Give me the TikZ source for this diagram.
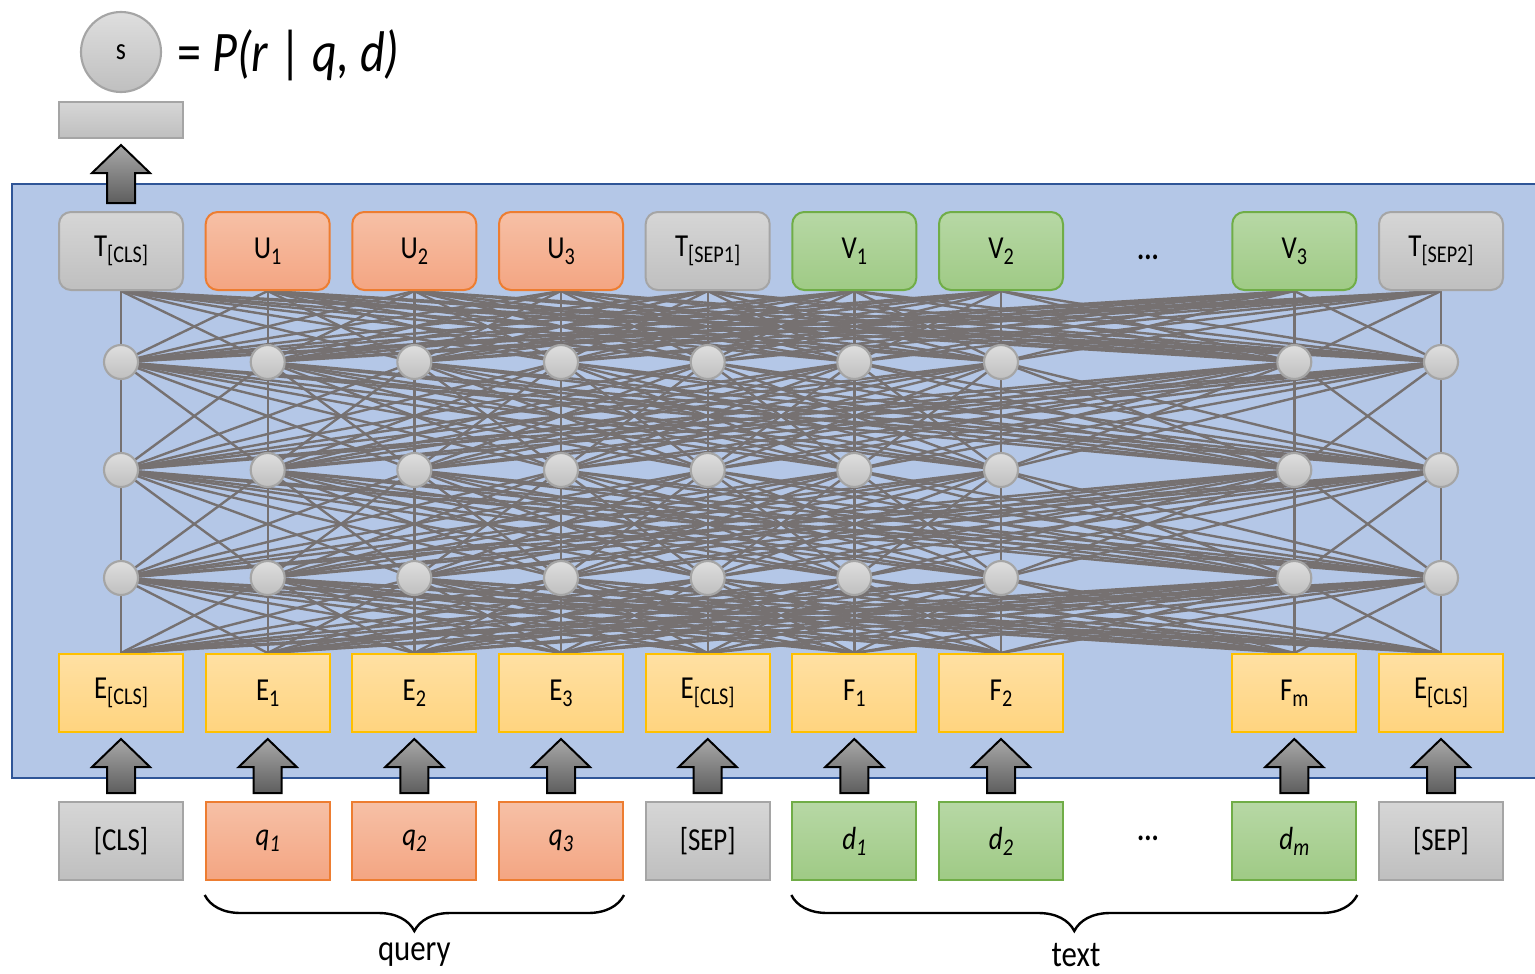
\documentclass[tikz,border=0pt]{standalone}
\usepackage{fontspec}
\setmainfont{Carlito}[FakeStretch=0.84]
\usetikzlibrary{calc,decorations.pathreplacing}
\pgfdeclarelayer{bg}
\pgfdeclarelayer{mesh}
\pgfsetlayers{bg,mesh,main}

\definecolor{panel}{HTML}{B4C7E7}
\definecolor{panelline}{HTML}{2F5597}
\definecolor{meshline}{HTML}{767171}
\definecolor{grayline}{HTML}{A5A5A5}
\definecolor{graytop}{HTML}{D6D6D6}
\definecolor{graybot}{HTML}{BFBFBF}
\definecolor{orline}{HTML}{ED7D31}
\definecolor{ortop}{HTML}{F6C0A6}
\definecolor{orbot}{HTML}{F4A582}
\definecolor{grline}{HTML}{70AD47}
\definecolor{grtop}{HTML}{B7D8A5}
\definecolor{grbot}{HTML}{9FCA85}
\definecolor{ylline}{HTML}{FFC000}
\definecolor{yltop}{HTML}{FFE0A3}
\definecolor{ylbot}{HTML}{FFD47F}
\definecolor{arrtop}{HTML}{A8A8A8}
\definecolor{arrbot}{HTML}{5E5E5E}

% lowered, smaller index text
\newcommand{\lsub}[1]{\raisebox{-0.38ex}{\fontsize{18}{18}\selectfont #1}}
% box text, set slightly below the centre
\newcommand{\boxtext}[1]{\raisebox{-2.5pt}{#1}}

\tikzset{
  box/.style={draw, line width=1.5pt, minimum width=93pt, minimum height=58.5pt,
    inner sep=0pt, font=\fontsize{24}{24}\selectfont},
  tokgray/.style={box, draw=grayline, top color=graytop, bottom color=graybot},
  tokor/.style={box, draw=orline, top color=ortop, bottom color=orbot},
  tokgr/.style={box, draw=grline, top color=grtop, bottom color=grbot},
  tokyl/.style={box, draw=ylline, top color=yltop, bottom color=ylbot},
  rbox/.style={rounded corners=9pt},
  unit/.style={circle, draw=grayline, line width=1.6pt, minimum size=25.5pt,
    inner sep=0pt, top color=graytop!80!white, bottom color=graybot},
  meshedge/.style={draw=meshline, line width=1.8pt},
  blockarrow/.style={draw=black, line width=1.5pt, line join=miter,
    top color=arrtop, bottom color=arrbot},
  brace/.style={draw, decorate, decoration={brace, mirror, amplitude=27pt},
    line width=1.8pt},
  dots/.style={font=\fontsize{24}{24}\selectfont\bfseries},
  label/.style={font=\fontsize{27.5}{27.5}\selectfont}
}

% block arrow pointing from node #1 up to node #2
\newcommand{\uparr}[2]{%
  \path[blockarrow]
    ($(#1.north)+(-14,-8)$) -- ($(#2.south)+(-14,34)$) --
    ($(#2.south)+(-29,34)$) -- ($(#2.south)+(0,6)$) --
    ($(#2.south)+(29,34)$) -- ($(#2.south)+(14,34)$) --
    ($(#1.north)+(14,-8)$) -- cycle;}

\begin{document}
\begin{tikzpicture}[x=0.75pt,y=-0.75pt]
\useasboundingbox (0,0) rectangle (1535,974);

% encoder panel
\begin{pgfonlayer}{bg}
  \path[fill=panel, draw=panelline, line width=1.5pt] (12,184) rectangle (1560,778);
\end{pgfonlayer}

% output rows
\node[tokgray,rbox] (t0) at (121,251)   {\boxtext{T\lsub{[CLS]}}};
\node[tokor,rbox]   (t1) at (267.7,251) {\boxtext{U\lsub{1}}};
\node[tokor,rbox]   (t2) at (414.3,251) {\boxtext{U\lsub{2}}};
\node[tokor,rbox]   (t3) at (561,251)   {\boxtext{U\lsub{3}}};
\node[tokgray,rbox] (t4) at (707.7,251) {\boxtext{T\lsub{[SEP1]}}};
\node[tokgr,rbox]   (t5) at (854.3,251) {\boxtext{V\lsub{1}}};
\node[tokgr,rbox]   (t6) at (1001,251)  {\boxtext{V\lsub{2}}};
\node[dots]         (dotsT) at (1148,257) {...};
\node[tokgr,rbox]   (t7) at (1294.3,251) {\boxtext{V\lsub{3}}};
\node[tokgray,rbox] (t8) at (1441,251)  {\boxtext{T\lsub{[SEP2]}}};

% embedding row
\node[tokyl] (e0) at (121,693)   {\boxtext{E\lsub{[CLS]}}};
\node[tokyl] (e1) at (267.7,693) {\boxtext{E\lsub{1}}};
\node[tokyl] (e2) at (414.3,693) {\boxtext{E\lsub{2}}};
\node[tokyl] (e3) at (561,693)   {\boxtext{E\lsub{3}}};
\node[tokyl] (e4) at (707.7,693) {\boxtext{E\lsub{[CLS]}}};
\node[tokyl] (e5) at (854.3,693) {\boxtext{F\lsub{1}}};
\node[tokyl] (e6) at (1001,693)  {\boxtext{F\lsub{2}}};
\node[tokyl] (e7) at (1294.3,693) {\boxtext{F\lsub{m}}};
\node[tokyl] (e8) at (1441,693)  {\boxtext{E\lsub{[CLS]}}};

% input tokens
\node[tokgray] (i0) at (121,841)   {[CLS]};
\node[tokor]   (i1) at (267.7,841) {\textit{q\lsub{1}}};
\node[tokor]   (i2) at (414.3,841) {\textit{q\lsub{2}}};
\node[tokor]   (i3) at (561,841)   {\textit{q\lsub{3}}};
\node[tokgray] (i4) at (707.7,841) {[SEP]};
\node[tokgr]   (i5) at (854.3,841) {\textit{d\lsub{1}}};
\node[tokgr]   (i6) at (1001,841)  {\textit{d\lsub{2}}};
\node[dots]    (dotsB) at (1148,838) {...};
\node[tokgr]   (i7) at (1294.3,841) {\textit{d\lsub{m}}};
\node[tokgray] (i8) at (1441,841)  {[SEP]};

% hidden units
\foreach \k/\x in {0/121,1/267.7,2/414.3,3/561,4/707.7,5/854.3,6/1001,7/1294.3,8/1441}{
  \node[unit] (a\k) at (\x,362) {};
  \node[unit] (b\k) at (\x,470) {};
  \node[unit] (c\k) at (\x,578) {};
}

% full connections between consecutive layers
\begin{pgfonlayer}{mesh}
\foreach \i in {0,...,8}{
  \foreach \j in {0,...,8}{
    \path[meshedge] (t\i.south) -- (a\j.center);
    \path[meshedge] (a\i.center) -- (b\j.center);
    \path[meshedge] (b\i.center) -- (c\j.center);
    \path[meshedge] (c\i.center) -- (e\j.north);
  }
}
\end{pgfonlayer}

% token-to-embedding arrows
\foreach \k in {0,...,8}{ \uparr{i\k}{e\k} }

% score head
\node[tokgray, minimum height=27pt] (pool) at (121,120) {};
\node[unit, minimum size=60pt, font=\fontsize{23}{23}\selectfont] (score) at (121,52) {s};
\node[anchor=base west, inner sep=0pt, font=\fontsize{43}{43}\selectfont]
  (formula) at (177,72) {= \textit{P(r} | \textit{q, d)}};
\uparr{t0}{pool}

% groupings
\path[brace] ($(i1.south west)+(0,14)$) -- ($(i3.south east)+(0,14)$);
\path[brace] ($(i5.south west)+(0,14)$) -- ($(i7.south east)+(0,14)$);
\node[label] (query) at (414.3,955) {query};
\node[label] (text) at (1076,955) {text};
\end{tikzpicture}
\end{document}
